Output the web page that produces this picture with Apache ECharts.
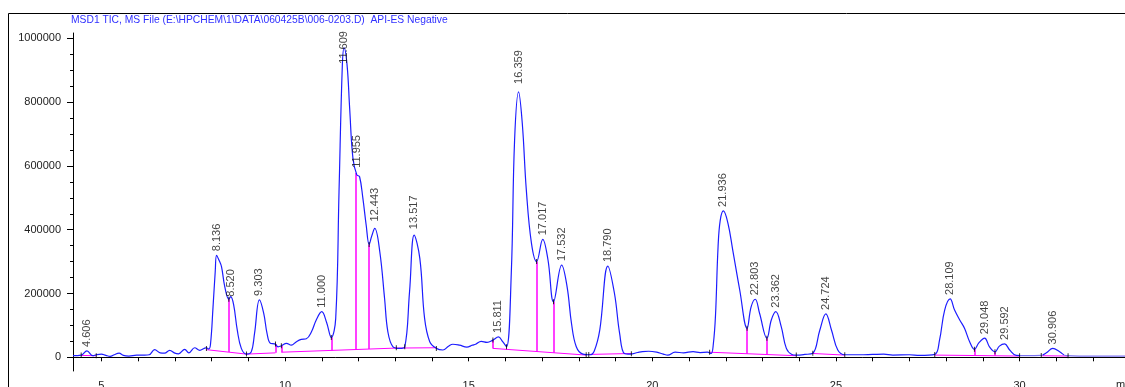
<!DOCTYPE html>
<html>
<head>
<meta charset="utf-8">
<script src="https://cdn.jsdelivr.net/npm/echarts@6/dist/echarts.min.js"></script>
<style>
  html, body { margin: 0; padding: 0; background: #fff; }
  #chart { width: 1125px; height: 387px; }
</style>
</head>
<body>
<div id="chart"></div>
<script>
// TIC trace, [time (min), abundance]
const ticCurve = [
  [4.227, 5000], [4.45, 7000], [4.606, 20000], [4.77, 5000], [4.86, 8000], [5.0, 10000],
  [5.12, 6000], [5.24, 3000], [5.35, 8000], [5.48, 13000], [5.6, 6000], [5.75, 4000],
  [5.96, 7000], [6.18, 7000], [6.3, 8000], [6.45, 24000], [6.6, 14000], [6.72, 13000],
  [6.86, 22000], [7.0, 13000], [7.1, 11000], [7.27, 25000], [7.38, 14000], [7.54, 30000],
  [7.68, 22000], [7.8, 28000], [7.86, 30000], [7.92, 26000], [7.97, 40000], [8.04, 158000],
  [8.1, 270000], [8.136, 320000], [8.2, 305000], [8.27, 284000], [8.36, 221000], [8.47, 182000],
  [8.52, 190000], [8.6, 165000], [8.7, 85000], [8.81, 28000], [8.95, 10000], [9.08, 17000],
  [9.17, 75000], [9.303, 180000], [9.42, 138000], [9.51, 75000], [9.6, 44000], [9.72, 42000],
  [9.81, 33000], [9.9, 36000], [10.04, 44000], [10.17, 38000], [10.31, 49000], [10.44, 56000],
  [10.58, 58000], [10.72, 80000], [10.85, 117000], [11.0, 143000], [11.13, 110000], [11.26, 62000],
  [11.38, 122000], [11.47, 519000], [11.56, 915000], [11.609, 970000], [11.69, 915000], [11.76, 780000],
  [11.85, 623000], [11.955, 572000], [12.03, 566000], [12.12, 498000], [12.21, 414000], [12.29, 354000],
  [12.36, 380000], [12.443, 404000], [12.58, 331000], [12.71, 185000], [12.8, 80000], [12.94, 33000],
  [13.12, 28000], [13.26, 33000], [13.39, 205000], [13.517, 383000], [13.67, 310000], [13.8, 122000],
  [13.94, 49000], [14.12, 28000], [14.3, 23000], [14.45, 35000], [14.57, 41000], [14.75, 38000],
  [14.95, 32000], [15.1, 38000], [15.19, 41000], [15.34, 50000], [15.5, 47000], [15.66, 54000],
  [15.811, 64000], [15.92, 50000], [16.03, 33000], [16.16, 263000], [16.25, 680000], [16.359, 832000],
  [16.46, 733000], [16.57, 524000], [16.71, 357000], [16.85, 300000], [17.017, 370000], [17.16, 305000],
  [17.31, 174000], [17.532, 289000], [17.68, 221000], [17.8, 106000], [17.93, 33000], [18.11, 10000],
  [18.3, 8000], [18.42, 20000], [18.57, 86000], [18.79, 286000], [18.97, 200000], [19.11, 75000],
  [19.24, 12000], [19.4, 10000], [19.6, 15000], [19.73, 18000], [19.9, 19000], [20.12, 16000],
  [20.3, 10000], [20.42, 7000], [20.62, 16000], [20.85, 14000], [21.11, 18000], [21.3, 15000],
  [21.5, 16000], [21.6, 12000], [21.66, 40000], [21.72, 130000], [21.79, 346000], [21.85, 430000],
  [21.936, 459000], [22.06, 420000], [22.19, 336000], [22.38, 211000], [22.58, 91000], [22.69, 158000],
  [22.803, 182000], [22.92, 138000], [23.12, 60000], [23.24, 117000], [23.362, 143000], [23.51, 96000],
  [23.65, 28000], [23.8, 9000], [23.92, 7000], [24.15, 9000], [24.37, 13000], [24.56, 85000],
  [24.724, 136000], [24.88, 85000], [25.05, 23000], [25.24, 8000], [25.64, 8000], [26.0, 9000],
  [26.3, 10000], [26.55, 7000], [27.0, 8000], [27.28, 6000], [27.69, 9000], [27.82, 54000],
  [27.96, 148000], [28.109, 183000], [28.23, 148000], [28.37, 117000], [28.5, 91000], [28.64, 49000],
  [28.77, 25000], [28.89, 45000], [29.048, 60000], [29.18, 33000], [29.33, 17500], [29.45, 35000],
  [29.592, 42000], [29.73, 23000], [29.91, 6000], [30.18, 5000], [30.59, 6000], [30.73, 14000],
  [30.906, 28000], [31.09, 17500], [31.27, 5000], [31.63, 4000], [32.87, 4000]
];

// labelled peaks
const peakTimes = [4.606, 8.136, 8.520, 9.303, 11.000, 11.609, 11.955, 12.443, 13.517, 15.811,
  16.359, 17.017, 17.532, 18.790, 21.936, 22.803, 23.362, 24.724, 28.109, 29.048, 29.592, 30.906];
const peakHeights = [20000, 320000, 190000, 180000, 143000, 970000, 572000, 404000, 383000, 64000,
  832000, 370000, 289000, 286000, 459000, 182000, 143000, 136000, 183000, 60000, 42000, 28000];

// integration baselines (magenta), each a polyline
const baselines = [
  [[4.45, 6000], [4.86, 5000]],
  [[7.86, 24000], [8.95, 10000], [9.74, 14000]],
  [[9.9, 16000], [13.03, 29000], [14.12, 30000]],
  [[15.66, 28000], [18.2, 7000]],
  [[18.27, 9000], [19.43, 12000]],
  [[21.56, 16000], [23.92, 5000]],
  [[24.37, 12000], [25.24, 7000]],
  [[27.69, 7000], [30.0, 4000]],
  [[30.59, 5000], [31.32, 4000]]
];
// drop lines: time, bottom, top
const dropTimes = [8.47, 9.74, 9.9, 11.26, 11.93, 12.29, 15.66, 16.85, 17.31, 22.58, 23.12, 28.77, 29.33];
const dropBottoms = [17000, 14000, 16000, 21600, 24400, 25900, 28000, 18300, 14500, 11200, 8700, 5600, 4900];
const dropTops = [182000, 42000, 36000, 62000, 578000, 354000, 54000, 300000, 174000, 91000, 60000, 25000, 17500];

// start/end/valley event marks
const eventMarks = [
  [4.45, 7000], [4.86, 5000], [7.86, 28000], [8.95, 10000], [9.74, 42000], [9.9, 36000],
  [13.03, 30000], [13.26, 33000], [14.12, 28000], [15.66, 54000], [16.03, 33000], [18.2, 8000],
  [18.27, 9000], [19.43, 11000], [21.56, 16000], [23.92, 7000], [24.37, 13000], [25.24, 8000],
  [27.69, 9000], [30.0, 5000], [30.59, 6000], [31.32, 5000],
  [8.47, 182000], [11.26, 62000], [12.29, 354000], [16.85, 300000], [17.31, 174000],
  [22.58, 91000], [23.12, 60000], [28.77, 25000], [29.33, 17500]
];

const yTickLabels = [0, 200000, 400000, 600000, 800000, 1000000];
const yMinorTicks = [0, 50000, 100000, 150000, 200000, 250000, 300000, 350000, 400000, 450000, 500000,
  550000, 600000, 650000, 700000, 750000, 800000, 850000, 900000, 950000, 1000000];
const xTickLabels = [5, 10, 15, 20, 25, 30];
const xTicks = [5, 6, 7, 8, 9, 10, 11, 12, 13, 14, 15, 16, 17, 18, 19, 20, 21, 22, 23, 24, 25, 26,
  27, 28, 29, 30, 31, 32];

const FONT = 'Liberation Sans, Arial, sans-serif';
const BLUE = '#1c1cff';
const MAGENTA = '#ff00ff';

// label nudges for a few crowded peaks
const labelGap = { '8.520': 0, '11.609': -16, '16.359': 8, '11.955': 7, '12.443': 7, '13.517': 6 };

const chart = echarts.init(document.getElementById('chart'), null, { renderer: 'canvas' });

const option = {
  animation: false,
  title: {
    text: 'MSD1 TIC, MS File (E:\\HPCHEM\\1\\DATA\\060425B\\006-0203.D)  API-ES Negative',
    left: 71, top: 15, padding: 0,
    textStyle: { fontFamily: FONT, fontSize: 10.3, fontWeight: 'normal', color: '#3030ff' }
  },
  graphic: [
    { type: 'rect', shape: { x: 8.5, y: 13.5, width: 1200, height: 400 },
      style: { fill: 'none', stroke: '#000', lineWidth: 1 }, silent: true },
    { type: 'text', left: 1116, top: 379,
      style: { text: 'min', fontFamily: FONT, fontSize: 11, fill: '#222' } }
  ],
  grid: { left: 73, right: 0, top: 33, bottom: 16, outerBoundsMode: 'none', containLabel: false },
  xAxis: {
    type: 'value', min: 4.227, max: 32.87,
    axisLine: { lineStyle: { color: '#000', width: 1 } },
    axisTick: { customValues: xTicks, length: 4, lineStyle: { color: '#000' } },
    axisLabel: { customValues: xTickLabels, margin: 9, fontFamily: FONT, fontSize: 11, color: '#222' },
    splitLine: { show: false }
  },
  yAxis: [
    {
      type: 'value', min: -42900, max: 1016600,
      axisLine: { show: true, lineStyle: { color: '#000', width: 1 } },
      axisTick: { show: true, customValues: yTickLabels, length: 6, lineStyle: { color: '#000' } },
      axisLabel: {
        customValues: yTickLabels, margin: 12, fontFamily: FONT, fontSize: 11, color: '#222',
        formatter: v => String(v)
      },
      splitLine: { show: false }
    },
    {
      type: 'value', min: -42900, max: 1016600, position: 'left',
      axisLine: { show: false },
      axisTick: { show: true, customValues: yMinorTicks, length: 3, lineStyle: { color: '#000' } },
      axisLabel: { show: false },
      splitLine: { show: false }
    }
  ],
  visualMap: {
    show: false, type: 'piecewise', seriesIndex: 0, dimension: 0,
    pieces: [
      { lt: 30.0, color: BLUE },
      { gte: 30.0, lt: 30.65, color: '#7c72f2' },
      { gte: 30.65, lt: 31.2, color: BLUE },
      { gte: 31.2, color: '#7c72f2' }
    ]
  },
  series: [
    {
      name: 'TIC', type: 'line', data: ticCurve, z: 3,
      showSymbol: false, smooth: 0.4,
      lineStyle: { width: 1.2 }
    },
    {
      name: 'baseline', type: 'lines', coordinateSystem: 'cartesian2d', polyline: true, z: 2,
      data: baselines.map(b => ({ coords: b })),
      lineStyle: { color: MAGENTA, width: 1, opacity: 1 }
    },
    {
      name: 'drops', type: 'lines', coordinateSystem: 'cartesian2d', z: 2,
      data: dropTimes.map((t, i) => ({ coords: [[t, dropBottoms[i]], [t, dropTops[i]]] })),
      lineStyle: { color: MAGENTA, width: 1.5, opacity: 1 }
    },
    {
      name: 'events', type: 'scatter', data: eventMarks, z: 4,
      symbol: 'rect', symbolSize: [1, 5], itemStyle: { color: '#000' }, silent: true
    },
    {
      name: 'peaks', type: 'scatter', z: 5, symbolSize: 0,
      data: peakTimes.map((t, i) => {
        const txt = t.toFixed(3);
        const item = { value: [t, peakHeights[i]] };
        if (labelGap[txt] !== undefined) item.label = { distance: labelGap[txt] };
        return item;
      }),
      label: {
        show: true, position: 'top', distance: 4, rotate: 90,
        align: 'left', verticalAlign: 'middle',
        fontFamily: FONT, fontSize: 11, color: '#111',
        formatter: p => p.value[0].toFixed(3)
      }
    }
  ]
};

chart.setOption(option);
</script>
</body>
</html>
